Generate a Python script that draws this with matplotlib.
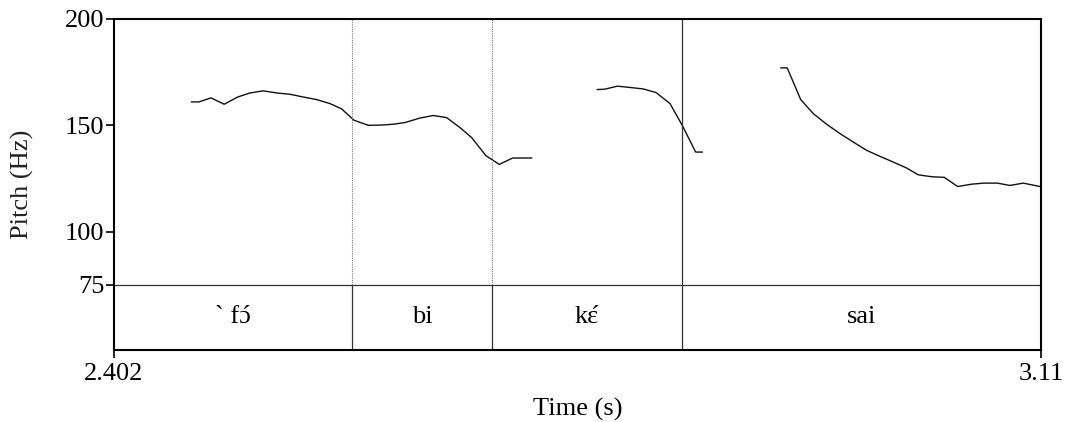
import matplotlib
matplotlib.use('Agg')
import matplotlib.pyplot as plt
import numpy as np

plt.rcParams['font.family'] = ['Liberation Serif', 'DejaVu Serif']

# pitch track, three voiced stretches (time in s, f0 in Hz)
t1 = [2.4613, 2.4669, 2.4761, 2.4862, 2.4965, 2.5059, 2.5160, 2.5263, 2.5364,
      2.5466, 2.5568, 2.5670, 2.5759, 2.5853, 2.5962, 2.6064, 2.6153, 2.6243,
      2.6357, 2.6459, 2.6561, 2.6663, 2.6752, 2.6861, 2.6963, 2.7065, 2.7210]
f1 = [161.0, 161.0, 162.9, 159.9, 163.3, 165.2, 166.2, 165.2, 164.6,
      163.3, 162.1, 160.2, 157.7, 152.4, 150.0, 150.1, 150.5, 151.3,
      153.4, 154.6, 153.6, 148.9, 144.2, 135.7, 131.6, 134.6, 134.6]

t2 = [2.7711, 2.7770, 2.7864, 2.7961, 2.8063, 2.8160, 2.8267, 2.8360, 2.8463, 2.8513]
f2 = [166.8, 167.0, 168.4, 167.8, 167.1, 165.4, 160.2, 150.0, 137.4, 137.4]

t3 = [2.9114, 2.9162, 2.9265, 2.9361, 2.9463, 2.9565, 2.9667, 2.9769, 2.9870,
      2.9972, 3.0074, 3.0163, 3.0265, 3.0362, 3.0464, 3.0571, 3.0665, 3.0766,
      3.0863, 3.0965, 3.1092]
f3 = [177.0, 177.0, 162.1, 155.5, 150.5, 146.1, 142.1, 138.2, 135.4,
      132.7, 129.9, 126.7, 125.8, 125.5, 121.2, 122.3, 122.8, 122.8,
      121.7, 122.8, 121.2]

# text grid tier
t_start, t_end = 2.402, 3.11
bounds = [2.5838, 2.6907, 2.8358]
labels = ['` f\u0254\u0301', 'bi', 'k\u025b\u0301', 'sai']
f_min, f_max = 75, 200
yticks = [75, 100, 150, 200]
tier_bottom = 44.3   # tier box below f_min
tier_mid = 59.7

FS = 19

fig = plt.figure(figsize=(10.66, 4.22), dpi=100)
ax = fig.add_axes([0.1069, 0.1706, 0.8696, 0.7844])

for t, f in [(t1, f1), (t2, f2), (t3, f3)]:
    ax.plot(t, f, color='#111111', lw=1.0)

# boundaries: first two dotted above the tier, third solid
for i, b in enumerate(bounds):
    if i < 2:
        ax.plot([b, b], [f_min, f_max], color='#777777', lw=0.8, ls=(0, (1, 1)))
    else:
        ax.plot([b, b], [f_min, f_max], color='#333333', lw=0.9)
    ax.plot([b, b], [tier_bottom, f_min], color='#333333', lw=0.9)

ax.axhline(f_min, color='#333333', lw=0.9)

ax.set_xlim(t_start, t_end)
ax.set_ylim(tier_bottom, f_max)
ax.set_xticks([t_start, t_end])
ax.set_xticklabels(['2.402', '3.11'])
ax.set_yticks(yticks)
ax.tick_params(axis='both', direction='out', length=6, width=1.2, labelsize=FS,
               color='black', pad=1)
ax.tick_params(axis='x', pad=3)
for s in ax.spines.values():
    s.set_linewidth(1.5)
ax.set_xlabel('Time (s)', fontsize=FS, labelpad=10)
ax.set_ylabel('Pitch (Hz)', fontsize=FS, color='#222222')
ax.yaxis.set_label_coords(-0.086, 0.5)

# tier labels; combining acute is drawn by hand over the last vowel
edges = [t_start] + bounds + [t_end]
fig.canvas.draw()
rend = fig.canvas.get_renderer()
for i, lab in enumerate(labels):
    xm = (edges[i] + edges[i + 1]) / 2
    if lab.endswith('\u0301'):
        base = lab[:-1]
        txt = ax.text(xm, tier_mid, base, ha='center', va='center', fontsize=FS)
        bb = txt.get_window_extent(rend)
        last = ax.text(0, 0, base[-1], fontsize=FS)
        w = last.get_window_extent(rend).width
        last.remove()
        xa = ax.transData.inverted().transform((bb.x1 - w / 2 + 1.5, 0))[0]
        ax.text(xa, tier_mid, '\u00b4', ha='center', va='center', fontsize=FS)
    else:
        ax.text(xm, tier_mid, lab, ha='center', va='center', fontsize=FS)

fig.savefig('out.png', dpi=100)
